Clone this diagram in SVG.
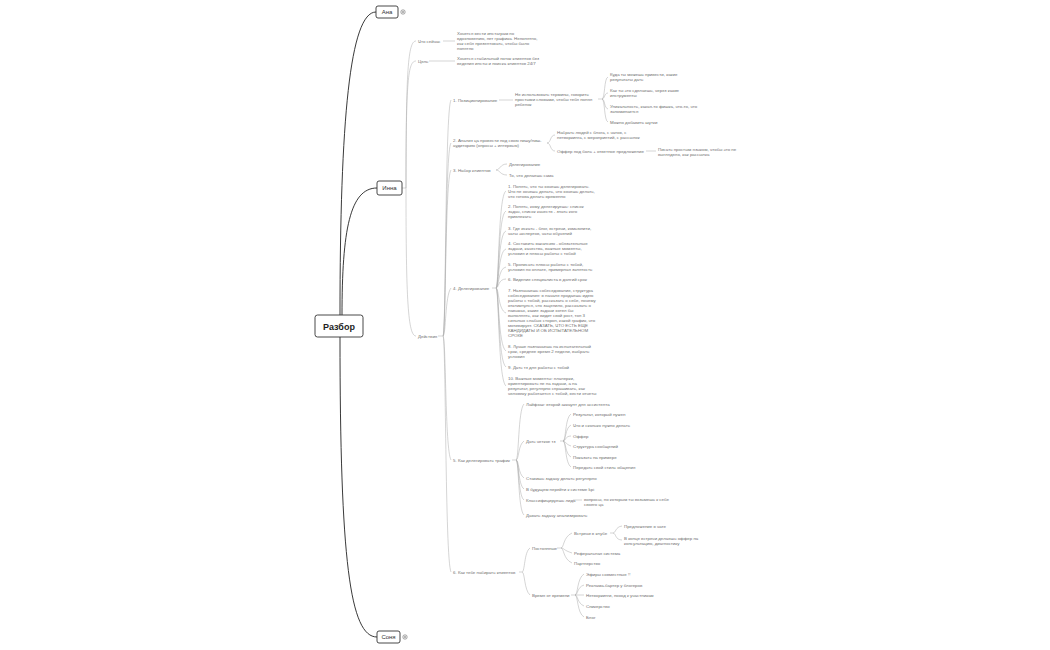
<svg xmlns="http://www.w3.org/2000/svg" width="1050" height="650" viewBox="0 0 1050 650">
<style>
text{font-family:"Liberation Sans",Arial,sans-serif;font-size:4.4px;fill:#707070}
.e{fill:none;stroke:#aaa;stroke-width:0.5}
.r{fill:none;stroke:#222;stroke-width:0.9}
.box{fill:#fff;stroke:#333;stroke-width:0.9}
.bt{font-size:6px;fill:#333;text-anchor:middle}
</style>
<rect width="1050" height="650" fill="#fff"/>
<g id="connectors">
<path class="r" d="M340 315 C340 120 350 12 376 12"/>
<path class="r" d="M342 315 C342 230 350 188 377 188"/>
<path class="r" d="M340 337 C340 560 350 637 377 637"/>
<path class="e" d="M402 188 H406"/>
<path class="e" d="M406 188 C406 70 408 41 416 41"/>
<path class="e" d="M406 188 C406 80 408 61 416 61"/>
<path class="e" d="M406 188 C406 300 408 336 416 336"/>
<path class="e" d="M443 41 H455"/>
<path class="e" d="M429 61 H455"/>
<path class="e" d="M438 336 H443 C446 336 445 110 451 100"/>
<path class="e" d="M443 336 C446 336 445 150 451 143"/>
<path class="e" d="M443 336 C446 336 445 178 451 170"/>
<path class="e" d="M443 336 C446 336 445 295 451 288"/>
<path class="e" d="M443 336 C446 336 445 450 451 460"/>
<path class="e" d="M443 336 C446 336 445 560 451 572"/>
<path class="e" d="M499 100 H513"/>
<path class="e" d="M598 99 H602 C605 99 604 78 608 77"/>
<path class="e" d="M602 99 C605 99 604 93 608 93"/>
<path class="e" d="M602 99 C605 99 604 108 608 109"/>
<path class="e" d="M602 99 C605 99 604 121 608 122"/>
<path class="e" d="M547 143 C551 143 550 135 555 135"/>
<path class="e" d="M547 143 C551 143 550 151 555 151"/>
<path class="e" d="M646 151 H656"/>
<path class="e" d="M496 170 C500 170 500 164 507 164"/>
<path class="e" d="M496 170 C500 170 500 175 507 175"/>
<path class="e" d="M492 288 H496 C499 288 498 195 506 191"/>
<path class="e" d="M496 288 C499 288 498 214 506 211"/>
<path class="e" d="M496 288 C499 288 498 233 506 231"/>
<path class="e" d="M496 288 C499 288 498 251 506 249"/>
<path class="e" d="M496 288 C499 288 498 268 506 267"/>
<path class="e" d="M496 288 C499 288 498 279 506 279"/>
<path class="e" d="M496 288 C499 288 498 310 506 313"/>
<path class="e" d="M496 288 C499 288 498 346 506 351"/>
<path class="e" d="M496 288 C499 288 498 362 506 367"/>
<path class="e" d="M496 288 C499 288 498 380 506 386"/>
<path class="e" d="M512 460 H516 C519 460 518 410 524 404"/>
<path class="e" d="M516 460 C519 460 518 445 524 441"/>
<path class="e" d="M516 460 C519 460 518 474 524 478"/>
<path class="e" d="M516 460 C519 460 518 485 524 489"/>
<path class="e" d="M516 460 C519 460 518 496 524 500"/>
<path class="e" d="M516 460 C519 460 518 510 524 515"/>
<path class="e" d="M560 441 H563 C566 441 565 418 571 414"/>
<path class="e" d="M563 441 C566 441 565 428 571 425"/>
<path class="e" d="M563 441 C566 441 565 436 571 436"/>
<path class="e" d="M563 441 C566 441 565 444 571 446"/>
<path class="e" d="M563 441 C566 441 565 454 571 457"/>
<path class="e" d="M563 441 C566 441 565 463 571 467"/>
<path class="e" d="M573 500 H582"/>
<path class="e" d="M519 572 H522 C525 572 524 552 530 548"/>
<path class="e" d="M522 572 C525 572 524 590 530 595"/>
<path class="e" d="M557 548 H561 C564 548 563 537 572 533"/>
<path class="e" d="M561 548 C564 548 563 550 572 553"/>
<path class="e" d="M561 548 C564 548 563 559 572 563"/>
<path class="e" d="M610 533 H613 C616 533 615 527 622 526"/>
<path class="e" d="M613 533 C616 533 615 540 622 540"/>
<path class="e" d="M571 595 H575 C578 595 577 578 584 574"/>
<path class="e" d="M575 595 C578 595 577 587 584 585"/>
<path class="e" d="M575 595 H584"/>
<path class="e" d="M575 595 C578 595 577 603 584 606"/>
<path class="e" d="M575 595 C578 595 577 613 584 617"/>
</g>
<g id="root"><rect class="box" x="315" y="315" width="48" height="22" rx="2.5"/><text class="bt" x="339" y="329.5" style="font-size:9px;font-weight:bold;fill:#222">Разбор</text></g>
<g id="ana"><rect class="box" x="376" y="6" width="22" height="12" rx="2"/><text class="bt" x="387" y="14">Ана</text><circle cx="403" cy="12" r="2.2" fill="#fff" stroke="#555" stroke-width="0.5"/><path d="M401.8 12 H404.2 M403 10.8 V13.2" stroke="#555" stroke-width="0.5"/></g>
<g id="inna"><rect class="box" x="377" y="181" width="25" height="14" rx="2"/><text class="bt" x="389.5" y="190">Инна</text></g>
<g id="sonya"><rect class="box" x="377" y="631" width="23" height="12" rx="2"/><text class="bt" x="388.5" y="639">Соня</text><circle cx="405" cy="637" r="2.2" fill="#fff" stroke="#555" stroke-width="0.5"/><path d="M403.8 637 H406.2 M405 635.8 V638.2" stroke="#555" stroke-width="0.5"/></g>
<g id="nodes">
<text x="418" y="42.5">Что сейчас</text>
<text x="457" y="34.5">Хочется вести инстаграм по</text>
<text x="457" y="39.5">вдохновению, нет графика. Непонятно,</text>
<text x="457" y="44.5">как себя презентовать, чтобы было</text>
<text x="457" y="49.5">понятно</text>
<text x="418" y="62.5">Цель</text>
<text x="457" y="59.5">Хочется стабильный поток клиентов без</text>
<text x="457" y="64.5">ведения инсты и поиска клиентов 24/7</text>
<text x="418" y="337.5">Действия</text>
<text x="453" y="101.5">1. Позиционирование</text>
<text x="515" y="95.5">Не использовать термины, говорить</text>
<text x="515" y="100.5">простыми словами, чтобы тебя понял</text>
<text x="515" y="105.5">ребенок</text>
<text x="610" y="75.5">Куда ты можешь привести, какие</text>
<text x="610" y="80.5">результаты дать</text>
<text x="610" y="91.5">Как ты это сделаешь, через какие</text>
<text x="610" y="96.5">инструменты</text>
<text x="610" y="107.5">Уникальность, какая-то фишка, что-то, что</text>
<text x="610" y="112.5">запоминается</text>
<text x="610" y="123.5">Можно добавить шутки</text>
<text x="453" y="141.5">2. Анализ ца провести под свою нишу/ниш-</text>
<text x="453" y="146.5">аудиторию (опросы + интервью)</text>
<text x="557" y="133.5">Набрать людей с блога, с чатов, с</text>
<text x="557" y="138.5">нетворкинга, с мероприятий, с рассылок</text>
<text x="557" y="152.5">Оффер под боль + ответное предложение</text>
<text x="658" y="150.5">Писать простым языком, чтобы это не</text>
<text x="658" y="155.5">выглядело, как рассылка</text>
<text x="453" y="171.5">3. Набор клиентов</text>
<text x="509" y="165.5">Делегирование</text>
<text x="509" y="176.5">То, что делаешь сама</text>
<text x="453" y="289.5">4. Делегирование</text>
<text x="508" y="187.5">1. Понять, что ты хочешь делегировать.</text>
<text x="508" y="192.5">Что не хочешь делать, что хочешь делать,</text>
<text x="508" y="197.5">что готова делать временно</text>
<text x="508" y="207.5">2. Понять, кому делегируешь: список</text>
<text x="508" y="212.5">задач, список качеств - знать кого</text>
<text x="508" y="217.5">привлекать</text>
<text x="508" y="229.5">3. Где искать - блог, встречи, комьюнити,</text>
<text x="508" y="234.5">чаты экспертов, чаты обучений</text>
<text x="508" y="244.5">4. Составить вакансию - обязательные</text>
<text x="508" y="249.5">задачи, качества, важные моменты,</text>
<text x="508" y="254.5">условия и плюсы работы с тобой</text>
<text x="508" y="265.5">5. Прописать плюсы работы с тобой,</text>
<text x="508" y="270.5">условия по оплате, примерная занятость</text>
<text x="508" y="280.5">6. Видение специалиста в долгий срок</text>
<text x="508" y="291.5">7. Назначаешь собеседование, структура</text>
<text x="508" y="296.5">собеседования: в начале продаешь идею</text>
<text x="508" y="301.5">работы с тобой, рассказать о себе, почему</text>
<text x="508" y="306.5">откликнулся, что зацепило, рассказать о</text>
<text x="508" y="311.5">навыках, какие задачи хотел бы</text>
<text x="508" y="316.5">выполнять, как видит свой рост, топ 3</text>
<text x="508" y="321.5">сильных слабых сторон, какой график, что</text>
<text x="508" y="326.5">мотивирует. СКАЗАТЬ, ЧТО ЕСТЬ ЕЩЕ</text>
<text x="508" y="331.5">КАНДИДАТЫ И ОБ ИСПЫТАТЕЛЬНОМ</text>
<text x="508" y="336.5">СРОКЕ</text>
<text x="508" y="347.5">8. Лучше назначаешь на испытательный</text>
<text x="508" y="352.5">срок, среднее время 2 недели, выбрать</text>
<text x="508" y="357.5">условия</text>
<text x="508" y="368.5">9. Дать тз для работы с тобой</text>
<text x="508" y="379.5">10. Важные моменты: планерки,</text>
<text x="508" y="384.5">ориентировать не на задачи, а на</text>
<text x="508" y="389.5">результат, регулярно спрашивать, как</text>
<text x="508" y="394.5">человеку работается с тобой, вести отчеты</text>
<text x="453" y="461.5">5. Как делегировать трафик</text>
<text x="526" y="405.5">Лайфхак: второй аккаунт для ассистента</text>
<text x="526" y="442.5">Дать четкое тз</text>
<text x="573" y="415.5">Результат, который нужен</text>
<text x="573" y="426.5">Что и сколько нужно делать</text>
<text x="573" y="437.5">Оффер</text>
<text x="573" y="447.5">Структура сообщений</text>
<text x="573" y="458.5">Показать на примере</text>
<text x="573" y="468.5">Передать свой стиль общения</text>
<text x="526" y="479.5">Ставишь задачу делать регулярно</text>
<text x="526" y="490.5">В будущем перейти к системе kpi</text>
<text x="526" y="501.5">Классифицируешь лида</text>
<text x="584" y="500.5">вопросы, по которым ты возьмешь к себе</text>
<text x="584" y="505.5">своего ца</text>
<text x="526" y="516.5">Давать задачу анализировать</text>
<text x="453" y="573.5">6. Как тебе набирать клиентов</text>
<text x="532" y="549.5">Постоянные</text>
<text x="574" y="534.5">Встречи в клубе</text>
<text x="624" y="527.5">Предложение в чате</text>
<text x="624" y="539.5">В конце встречи делаешь оффер на</text>
<text x="624" y="544.5">консультацию, диагностику</text>
<text x="574" y="554.5">Реферальная система</text>
<text x="574" y="564.5">Партнерство</text>
<text x="532" y="596.5">Время от времени</text>
<text x="586" y="575.5">Эфиры совместные !!</text>
<text x="586" y="586.5">Реклама-бартер у блогеров</text>
<text x="586" y="596.5">Нетворкинги, поход к участникам</text>
<text x="586" y="607.5">Спикерство</text>
<text x="586" y="618.5">Блог</text>
</g>
</svg>
